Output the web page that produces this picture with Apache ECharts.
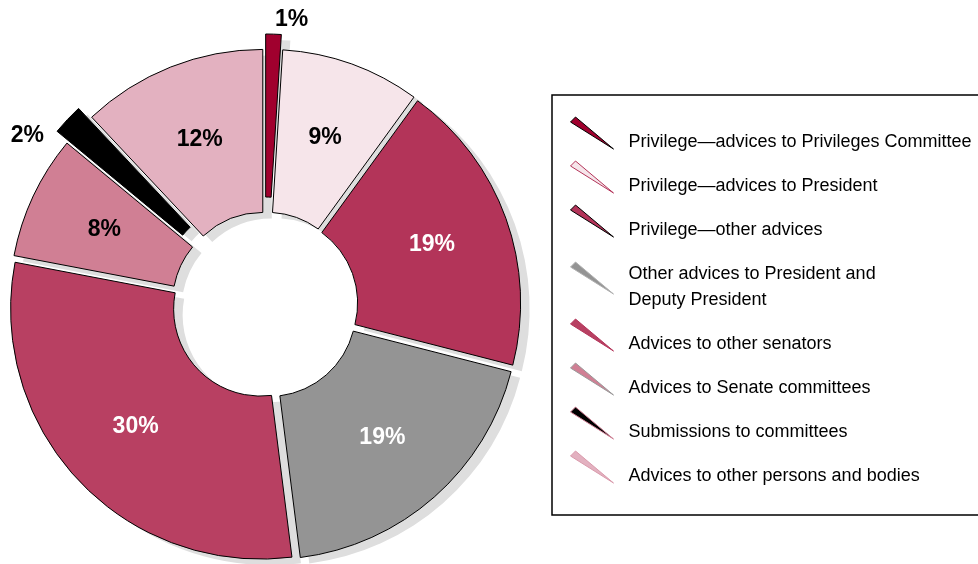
<!DOCTYPE html>
<html>
<head>
<meta charset="utf-8">
<script src="https://cdn.jsdelivr.net/npm/echarts@6/dist/echarts.min.js"></script>
<style>
  html, body { margin: 0; padding: 0; background: #fff; }
  #chart { width: 978px; height: 564px; }
</style>
</head>
<body>
<div id="chart"></div>
<script>
// slice data, clockwise from the top
const names = [
    "Privilege\u2014advices to Privileges Committee",
    "Privilege\u2014advices to President",
    "Privilege\u2014other advices",
    "Other advices to President and\nDeputy President",
    "Advices to other senators",
    "Advices to Senate committees",
    "Submissions to committees",
    "Advices to other persons and bodies"
];
const values = [1, 9, 19, 19, 30, 8, 2, 12];

const colors = ["#a0002e", "#f6e5ea", "#b33459", "#949494", "#b84062", "#d07f94", "#000000", "#e3b1c0"];
const labelColors = ["#000", "#000", "#fff", "#fff", "#fff", "#000", "#000", "#000"];
const iconBorders = ["#000", "#b33459", "#000", "#b0b0b0", "#b33459", "#999", "#d07f94", "#d99aab"];
// small slices pulled further out
const bigOffset = [0, 6];

const center = [265, 305];
const radius = [87, 250];
const shadowShift = [9, 6];
const shadowColor = "#dedede";
const font = "'Liberation Sans', Arial, sans-serif";

const chart = echarts.init(document.getElementById("chart"));

function sliceData(visible, withLabels) {
    return names.map((name, i) => {
        const show = visible(i);
        return {
            name: name,
            value: values[i],
            selected: true,
            itemStyle: show
                ? (withLabels ? { color: colors[i], borderColor: "#000", borderWidth: 1 } : { color: shadowColor, borderWidth: 0 })
                : { color: "transparent", borderWidth: 0 },
            label: { show: show && withLabels, color: labelColors[i] }
        };
    });
}

function pieSeries(data, offset, shift, z, outside) {
    return {
        type: "pie",
        center: [center[0] + shift[0], center[1] + shift[1]],
        radius: radius,
        startAngle: 90,
        selectedMode: "multiple",
        selectedOffset: offset,
        avoidLabelOverlap: false,
        silent: true,
        z: z,
        emphasis: { disabled: true },
        label: {
            position: outside ? "outside" : "inside",
            formatter: "{c}%",
            fontFamily: font,
            fontWeight: "bold",
            fontSize: 23,
            distanceToLabelLine: 1
        },
        labelLine: { show: false, length: 17, length2: 0 },
        labelLayout: outside ? function (params) {
            if (params.dataIndex === 6) return { dx: -10, dy: 28 };
            return { dy: 3 };
        } : undefined,
        data: data
    };
}

const isBig = i => bigOffset.indexOf(i) >= 0;
const isMain = i => !isBig(i);

const option = {
    animation: false,
    legend: {
        orient: "vertical",
        left: 552,
        top: 95,
        padding: [21, 40, 13, 18],
        itemGap: -8,
        itemWidth: 43,
        itemHeight: 50,
        selectedMode: false,
        borderColor: "#000",
        borderWidth: 1.5,
        // wedge in the top part, empty room below so it sits above the text centre
        icon: "path://M0,5 L5,0 L43,32 Z M0,50 L0.01,50",
        textStyle: {
            fontFamily: font,
            fontSize: 18,
            lineHeight: 26,
            color: "#000",
            padding: [13, 0, 13, 10]
        },
        data: names.map((name, i) => ({
            name: name,
            itemStyle: { color: colors[i], borderColor: iconBorders[i], borderWidth: 1 }
        }))
    },
    series: [
        pieSeries(sliceData(isMain, true), 6, [0, 0], 4, false),
        pieSeries(sliceData(isBig, true), 21, [0, 0], 4, true),
        pieSeries(sliceData(isMain, false), 6, shadowShift, 1, false),
        pieSeries(sliceData(isBig, false), 21, shadowShift, 1, false)
    ]
};

chart.setOption(option);
</script>
</body>
</html>
